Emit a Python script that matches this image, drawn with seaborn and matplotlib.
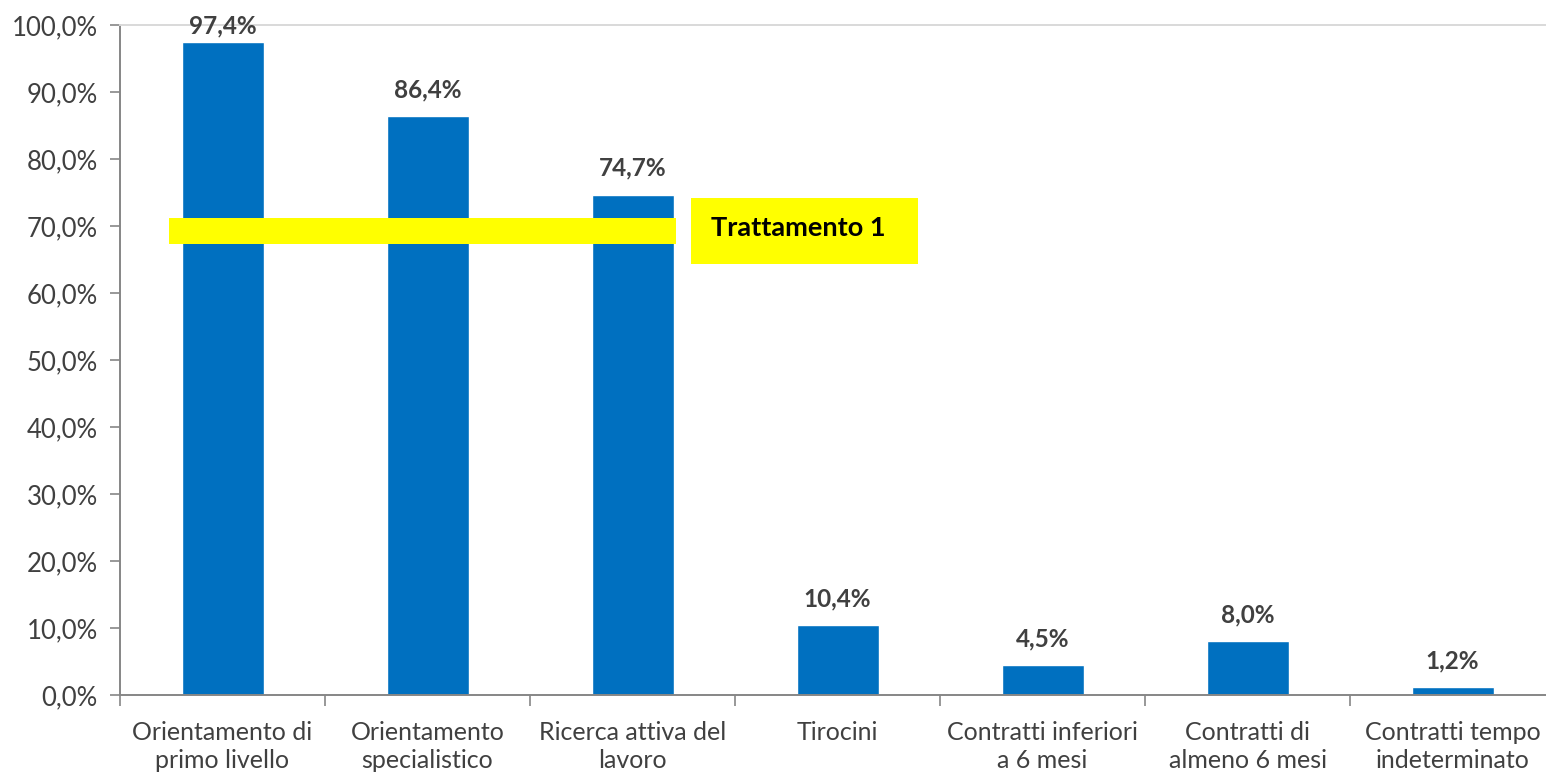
import matplotlib
matplotlib.use("Agg")
import matplotlib.pyplot as plt
import matplotlib.ticker as mticker
from matplotlib.patches import Rectangle
import pandas as pd
import seaborn as sns

categories = [
    "Orientamento di\nprimo livello",
    "Orientamento\nspecialistico",
    "Ricerca attiva del\nlavoro",
    "Tirocini",
    "Contratti inferiori\na 6 mesi",
    "Contratti di\nalmeno 6 mesi",
    "Contratti tempo\nindeterminato",
]
values = [97.4, 86.4, 74.7, 10.4, 4.5, 8.0, 1.2]
y_ticks = [0, 10, 20, 30, 40, 50, 60, 70, 80, 90, 100]
callout = "Trattamento 1"

BLUE = "#0070C0"
TEXT = "#404040"
AXIS = "#868686"

sns.set_theme(style="white")
plt.rcParams["font.family"] = ["Lato", "DejaVu Sans"]

df = pd.DataFrame({"categoria": categories, "valore": values})

fig = plt.figure(figsize=(15.46, 7.74), dpi=100)
fig.patch.set_facecolor("white")
# plot area runs slightly past the right edge, like the original crop
ax = fig.add_axes([120 / 1546, 79 / 774, 1435 / 1546, 670 / 774])

sns.barplot(data=df, x="categoria", y="valore", order=categories,
            color=BLUE, width=0.4, saturation=1, ax=ax)

ax.set_ylim(0, 100)
ax.set_xlim(-0.5, len(categories) - 0.5)
ax.set_yticks(y_ticks)
ax.yaxis.set_major_formatter(
    mticker.FuncFormatter(lambda v, _: f"{v:.1f}%".replace(".", ",")))
ax.tick_params(axis="y", length=7, width=1.2, color=AXIS, labelsize=18.5,
               labelcolor=TEXT, pad=9, left=True)

# category labels at centres, tick marks on the boundaries
ax.set_xticks(range(len(categories)))
ax.set_xticklabels(categories, fontsize=18, color=TEXT, linespacing=1.25)
ax.tick_params(axis="x", which="major", length=0, pad=19)
ax.set_xticks([i - 0.5 for i in range(len(categories) + 1)], minor=True)
ax.tick_params(axis="x", which="minor", length=8, width=1.2, color=AXIS,
               bottom=True)
ax.set_xlabel("")
ax.set_ylabel("")

for side in ["left", "bottom"]:
    ax.spines[side].set_color(AXIS)
    ax.spines[side].set_linewidth(1.4)
ax.spines["top"].set_color("#d9d9d9")
ax.spines["top"].set_linewidth(1.4)
ax.spines["right"].set_visible(False)

for i, v in enumerate(values):
    ax.text(i, min(v + 3.9, 99.9), f"{v:.1f}%".replace(".", ","),
            ha="center", va="center", fontsize=17.5, fontweight="bold",
            color=TEXT)

# yellow highlight band and label box
ax.add_patch(Rectangle((49 / 1435, (695 - 244) / 670), 507 / 1435, 26 / 670,
                       transform=ax.transAxes, facecolor="#FFFF00",
                       edgecolor="none", zorder=5))
ax.add_patch(Rectangle((571 / 1435, (695 - 264) / 670), 227 / 1435, 66 / 670,
                       transform=ax.transAxes, facecolor="#FFFF00",
                       edgecolor="none", zorder=5))
ax.text(591 / 1435, (695 - 228) / 670, callout, transform=ax.transAxes,
        ha="left", va="center", fontsize=19.5, fontweight="bold",
        color="black", zorder=6)

fig.savefig("out.png", dpi=100, facecolor="white")
